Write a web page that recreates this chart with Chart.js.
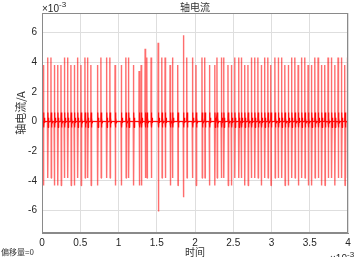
<!DOCTYPE html>
<html>
<head>
<meta charset="utf-8">
<script src="https://cdn.jsdelivr.net/npm/chart.js@4"></script>
<style>
  html, body { margin: 0; padding: 0; background: #fff; }
  #wrap { width: 363px; height: 257px; }
</style>
</head>
<body>
<div id="wrap"><canvas id="shaftChart" width="363" height="257"></canvas></div>
<script>
// pulse times (x10^-3 s)
const pulseTimes = [
    0.017, 0.073, 0.117, 0.160, 0.204, 0.248, 0.291, 0.334, 0.378, 0.421,
    0.464, 0.509, 0.561, 0.595, 0.639, 0.725, 0.770, 0.843, 0.887, 0.955,
    1.035, 1.096, 1.130, 1.195, 1.269, 1.296, 1.348, 1.370, 1.426, 1.518,
    1.566, 1.609, 1.674, 1.704, 1.774, 1.847, 1.892, 1.965,
    2.013, 2.091, 2.127, 2.187, 2.257, 2.287, 2.343, 2.374, 2.431, 2.474,
    2.518, 2.570, 2.604, 2.648, 2.692, 2.735, 2.779, 2.822, 2.865, 2.909,
    2.952, 2.990,
    3.044, 3.087, 3.131, 3.174, 3.218, 3.262, 3.305, 3.348, 3.392, 3.435,
    3.478, 3.522, 3.566, 3.609, 3.653, 3.696, 3.739, 3.783, 3.826, 3.870,
    3.914, 3.957, 3.992
];
// positive peak of each pulse (x10^-3 A)
const pulseHigh = [
    3.8, 4.3, 4.3, 3.8, 3.8, 3.8, 4.3, 4.3, 3.8, 3.8,
    4.3, 3.8, 4.3, 4.3, 3.8, 3.8, 4.3, 4.3, 4.3, 3.8,
    3.8, 4.3, 4.3, 3.8, 3.4, 3.8, 4.9, 4.3, 4.3, 5.3,
    4.3, 4.3, 3.8, 4.3, 3.8, 5.8, 4.3, 4.3,
    3.8, 4.3, 4.3, 3.8, 3.8, 4.3, 4.3, 4.3, 3.8, 3.8,
    4.3, 4.3, 4.3, 3.8, 3.8, 4.3, 4.3, 4.3, 3.8, 4.3,
    4.3, 3.8,
    4.3, 4.3, 4.3, 3.8, 3.8, 4.3, 4.3, 3.8, 4.3, 4.3,
    3.8, 3.8, 4.3, 4.3, 3.8, 3.8, 4.3, 4.3, 3.8, 4.3,
    4.3, 3.8, 4.3
];
// negative peak of each pulse (x10^-3 A)
const pulseLow = [
    -4.3, -3.8, -3.8, -4.3, -4.3, -4.3, -3.8, -3.8, -4.3, -4.3,
    -3.8, -4.3, -3.8, -3.8, -4.3, -4.3, -3.8, -3.8, -3.8, -4.3,
    -4.3, -3.8, -3.8, -4.3, -4.3, -4.3, -3.8, -3.8, -3.8, -6.05,
    -3.8, -3.8, -4.3, -3.8, -4.3, -5.1, -3.8, -3.8,
    -4.3, -3.8, -3.8, -4.3, -4.3, -3.8, -3.8, -3.8, -4.3, -4.3,
    -3.8, -3.8, -3.8, -4.3, -4.3, -3.8, -3.8, -3.8, -4.3, -3.8,
    -3.8, -4.3,
    -3.8, -3.8, -3.8, -4.3, -4.3, -3.8, -3.8, -4.3, -3.8, -3.8,
    -4.3, -4.3, -3.8, -3.8, -4.3, -4.3, -3.8, -3.8, -4.3, -3.8,
    -3.8, -4.3, -3.8
];
// small ringing after each pulse (x10^-3 A)
const ringAmp = [0.6, -0.4, 0.25, -0.1];

const xTicks = [0, 0.5, 1, 1.5, 2, 2.5, 3, 3.5, 4];
const yTicks = [-6, -4, -2, 0, 2, 4, 6];

// build line points
const spikePts = [{ x: 0, y: 0 }];
const ringPts = [{ x: 0, y: 0 }];
pulseTimes.forEach((t, i) => {
    spikePts.push({ x: t - 0.002, y: 0 }, { x: t, y: pulseHigh[i] }, { x: t + 0.004, y: pulseLow[i] }, { x: t + 0.008, y: 0 });
    ringPts.push({ x: t, y: 0 });
    ringAmp.forEach((a, k) => ringPts.push({ x: t + 0.004 * (k + 1), y: a }));
    ringPts.push({ x: t + 0.004 * (ringAmp.length + 1), y: 0 });
});
spikePts.push({ x: 4, y: 0 });
ringPts.push({ x: 4, y: 0 });

const textColor = '#262626';
const tickFont = { family: 'Liberation Sans', size: 10 };

const textPlugin = {
    id: 'matlabText',
    afterDraw(chart) {
        const ctx = chart.ctx;
        const a = chart.chartArea;
        ctx.save();
        // box
        ctx.strokeStyle = '#8a8a8a';
        ctx.lineWidth = 1;
        ctx.strokeRect(Math.round(a.left) + 0.5, Math.round(a.top) + 0.5, Math.round(a.right - a.left) - 1, Math.round(a.bottom - a.top) - 1);

        // title
        ctx.fillStyle = '#333';
        ctx.font = '10px "Noto Sans CJK SC"';
        ctx.textAlign = 'center';
        ctx.textBaseline = 'middle';
        ctx.fillText('轴电流', (a.left + a.right) / 2, 7);

        // y title
        ctx.save();
        ctx.translate(21, 113);
        ctx.rotate(-Math.PI / 2);
        ctx.font = '11px "Noto Sans CJK SC"';
        ctx.fillText('轴电流/A', 0, 0);
        ctx.restore();

        // x title
        ctx.font = '10px "Noto Sans CJK SC"';
        ctx.fillText('时间', (a.left + a.right) / 2, 252);

        // offset note
        ctx.font = '8px "Noto Sans CJK SC"';
        ctx.textAlign = 'left';
        ctx.fillText('偏移量=0', 1, 252);

        // exponent labels
        ctx.fillStyle = textColor;
        ctx.font = '10px "Liberation Sans"';
        ctx.textAlign = 'left';
        ctx.textBaseline = 'alphabetic';
        ctx.fillText('×10', 42, 12);
        ctx.font = '8px "Liberation Sans"';
        ctx.fillText('-3', 59, 7);

        ctx.font = '10px "Liberation Sans"';
        ctx.fillText('×10', 330, 262);
        ctx.font = '8px "Liberation Sans"';
        ctx.fillText('-3', 347, 257);
        ctx.restore();
    }
};

const ctx = document.getElementById('shaftChart').getContext('2d');
window.shaftChart = new Chart(ctx, {
    type: 'line',
    data: {
        datasets: [{
            label: 'spikes',
            data: spikePts,
            borderColor: 'rgba(255, 20, 20, 0.62)',
            borderWidth: 1.4,
            borderJoinStyle: 'bevel',
            pointRadius: 0,
            tension: 0,
            fill: false
        }, {
            label: 'ring',
            data: ringPts,
            borderColor: 'rgba(255, 0, 0, 1)',
            borderWidth: 1.2,
            borderJoinStyle: 'bevel',
            pointRadius: 0,
            tension: 0,
            fill: false
        }]
    },
    options: {
        responsive: false,
        animation: false,
        devicePixelRatio: 1,
        parsing: false,
        layout: { padding: { top: 13, right: 15, left: 0, bottom: 0 } },
        plugins: {
            legend: { display: false },
            tooltip: { enabled: false }
        },
        scales: {
            x: {
                type: 'linear',
                min: 0,
                max: 4,
                afterBuildTicks: axis => { axis.ticks = xTicks.map(v => ({ value: v })); },
                afterFit: axis => { axis.height = 24; },
                grid: { color: '#dedede', drawTicks: false },
                border: { display: true, color: '#8a8a8a' },
                ticks: {
                    font: tickFont,
                    color: textColor,
                    padding: 4,
                    maxRotation: 0,
                    callback: v => String(v)
                }
            },
            y: {
                type: 'linear',
                min: -7.5,
                max: 7.3,
                afterBuildTicks: axis => { axis.ticks = yTicks.map(v => ({ value: v })); },
                afterFit: axis => { axis.width = 42; },
                grid: { color: '#dedede', drawTicks: false },
                border: { display: true, color: '#8a8a8a' },
                ticks: {
                    font: tickFont,
                    color: textColor,
                    padding: 5,
                    callback: v => String(v)
                }
            }
        }
    },
    plugins: [textPlugin]
});
</script>
</body>
</html>
